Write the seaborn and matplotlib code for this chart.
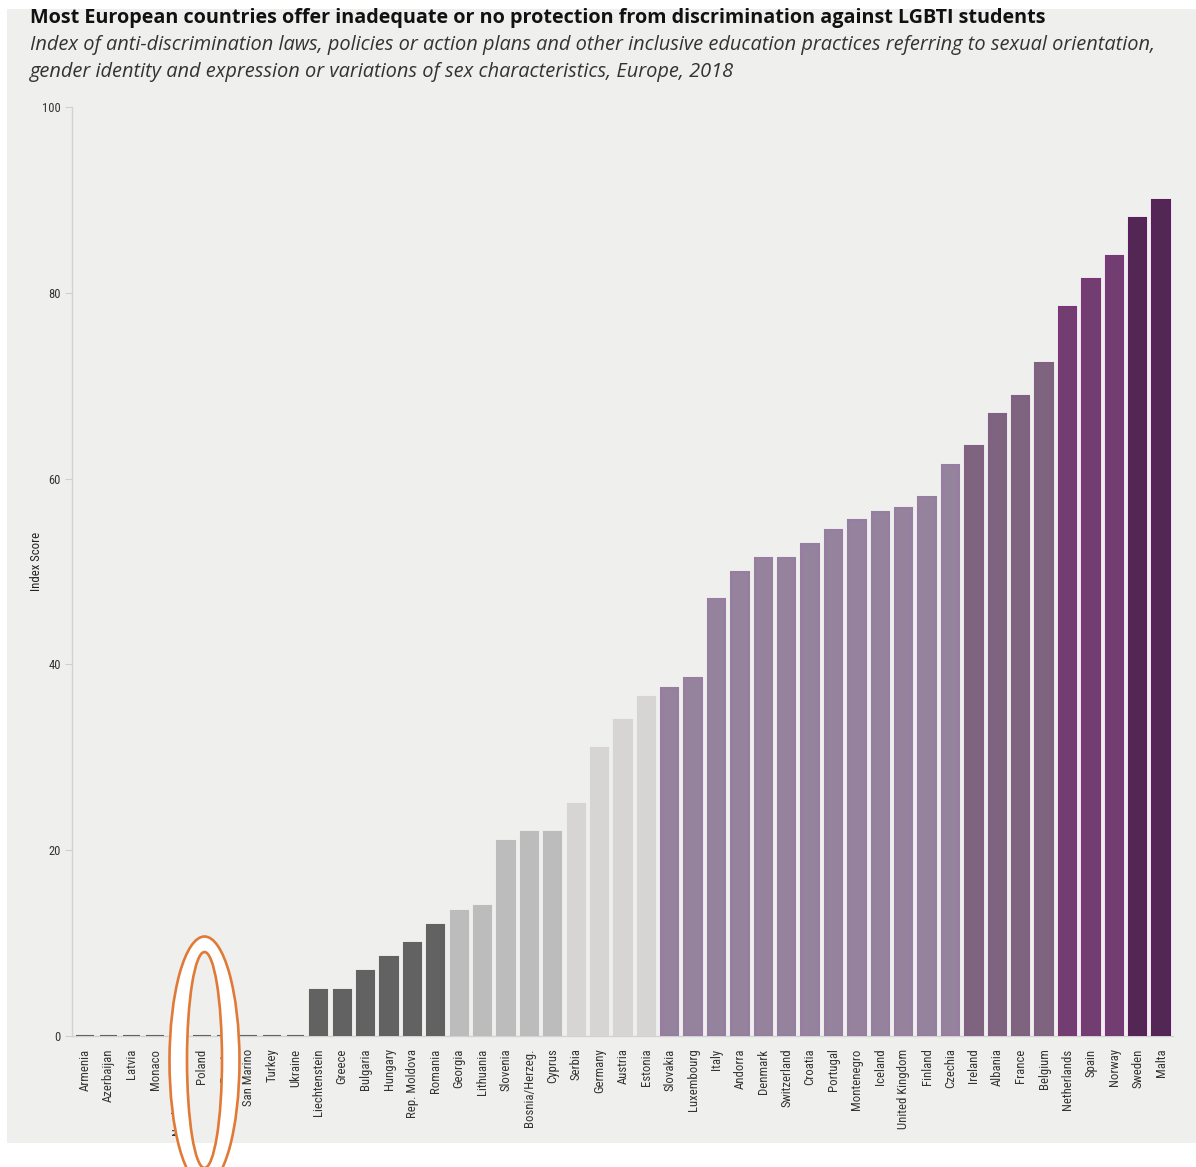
import matplotlib
matplotlib.use("Agg")
import matplotlib.pyplot as plt
from matplotlib import font_manager
from matplotlib.patches import Rectangle, Ellipse, PathPatch
from matplotlib.path import Path
from matplotlib.transforms import Affine2D, IdentityTransform
import pandas as pd
import seaborn as sns

# ---- data -------------------------------------------------------------
countries = [
    "Armenia", "Azerbaijan", "Latvia", "Monaco", "North Macedonia", "Poland",
    "Russia", "San Marino", "Turkey", "Ukraine", "Liechtenstein", "Greece",
    "Bulgaria", "Hungary", "Rep. Moldova", "Romania", "Georgia", "Lithuania",
    "Slovenia", "Bosnia/Herzeg.", "Cyprus", "Serbia", "Germany", "Austria",
    "Estonia", "Slovakia", "Luxembourg", "Italy", "Andorra", "Denmark",
    "Switzerland", "Croatia", "Portugal", "Montenegro", "Iceland",
    "United Kingdom", "Finland", "Czechia", "Ireland", "Albania", "France",
    "Belgium", "Netherlands", "Spain", "Norway", "Sweden", "Malta",
]
scores = [
    0, 0, 0, 0, 0, 0, 0, 0, 0, 0, 5, 5,
    7, 8.5, 10, 12, 13.5, 14,
    21, 22, 22, 25, 31, 34,
    36.5, 37.5, 38.5, 47, 50, 51.5,
    51.5, 53, 54.5, 55.5, 56.4,
    56.8, 58, 61.5, 63.5, 67, 68.9,
    72.4, 78.5, 81.5, 84, 88, 90,
]
score_bands = [
    "A", "A", "A", "A", "A", "A", "A", "A", "A", "A", "A", "A",
    "A", "A", "A", "A", "B", "B",
    "B", "B", "B", "C", "C", "C",
    "C", "D", "D", "D", "D", "D",
    "D", "D", "D", "D", "D",
    "D", "D", "D", "E", "E", "E",
    "E", "F", "F", "F", "G", "G",
]
band_colors = {
    "A": "#626262", "B": "#bcbcbc", "C": "#d6d5d4", "D": "#977da2",
    "E": "#826083", "F": "#7a3679", "G": "#5a1f5c",
}

title = ("Most European countries offer inadequate or no protection "
         "from discrimination against LGBTI students")
subtitle = ("Index of anti-discrimination laws, policies or action plans and other "
            "inclusive education practices referring to sexual orientation,\n"
            "gender identity and expression or variations of sex characteristics, "
            "Europe, 2018")
y_ticks = [0, 20, 40, 60, 80, 100]

# ---- fonts ------------------------------------------------------------
available = {f.name for f in font_manager.fontManager.ttflist}


def pick(*names):
    for n in names:
        if n in available:
            return n
    return "DejaVu Sans"


narrow = pick("Liberation Sans Narrow", "Roboto Condensed", "Open Sans Condensed",
              "Noto Sans Condensed", "Liberation Sans")
head = pick("Open Sans", "Lato", "Noto Sans")

sns.set_theme(style="white")
plt.rcParams["font.family"] = [head, "DejaVu Sans"]

W, H, DPI = 1196, 1167, 100
panel = "#eff0ee"
fig = plt.figure(figsize=(W / DPI, H / DPI), dpi=DPI, facecolor="white")

# grey panel behind the chart
fig.add_artist(Rectangle((7 / W, 1 - 1143 / H), 1 - 7 / W, (1143 - 9) / H,
                         transform=fig.transFigure, facecolor=panel,
                         edgecolor="none", zorder=-10))

ax = fig.add_axes([72 / W, 1 - 1036 / H, (1173 - 72) / W, (1036 - 107) / H])
ax.set_facecolor(panel)

df = pd.DataFrame({"country": countries, "score": scores, "band": score_bands})
sns.barplot(data=df, x="country", y="score", hue="band", palette=band_colors,
            dodge=False, width=0.74, legend=False, ax=ax, zorder=3)
for bar, band in zip(ax.patches, df["band"]):
    bar.set_edgecolor(band_colors[band])
    bar.set_linewidth(1.5)

ax.set_xlim(-0.55, len(countries) - 0.49)
ax.set_ylim(0, 100)
ax.set_yticks(y_ticks)
ax.set_yticklabels([str(t) for t in y_ticks], fontsize=9, color="#333333",
                   family=[narrow, "DejaVu Sans"])
ax.tick_params(axis="y", length=5, width=0.8, color="#cfcfcf", pad=3, left=True)
ax.tick_params(axis="x", length=0, pad=9)
ax.set_xticks(range(len(countries)))
ax.set_xticklabels(countries, rotation=90, fontsize=9.2, color="#333333",
                   family=[narrow, "DejaVu Sans"], va="top", ha="center")
for side in ("top", "right"):
    ax.spines[side].set_visible(False)
for side in ("left", "bottom"):
    ax.spines[side].set_color("#d2d2d2")
    ax.spines[side].set_linewidth(1.0)
ax.spines["bottom"].set_zorder(1)
ax.set_xlabel("")
ax.set_ylabel("Index Score", fontsize=9.2, color="#222222",
              family=[narrow, "DejaVu Sans"])
ax.yaxis.set_label_coords((43 - 72) / (1173 - 72), (1036 - 561) / (1036 - 107))

# headings
fig.text(30 / W, 1 - 18 / H, title, fontsize=14.25, fontweight="bold",
         color="#111111", va="center", ha="left")
fig.text(30 / W, 1 - 58.5 / H, subtitle, fontsize=14.45, style="italic",
         color="#333333", va="center", ha="left", linespacing=1.5)

# highlight ring around Poland (pixel coordinates, origin bottom-left)
cx, cy = 204.5, H - 1061
outer = Path.unit_circle().transformed(Affine2D().scale(35, 124.5).translate(cx, cy))
inner = Path.unit_circle().transformed(Affine2D().scale(17.5, 108).translate(cx, cy + 1))
inner_rev = Path(inner.vertices[::-1], inner.codes)
ring = Path.make_compound_path(outer, inner_rev)
fig.add_artist(PathPatch(ring, transform=IdentityTransform(), facecolor="white",
                         edgecolor="none", zorder=20))
for (w, h, dy) in ((70, 249, 0), (35, 216, 1)):
    fig.add_artist(Ellipse((cx, cy + dy), w, h, transform=IdentityTransform(),
                           facecolor="none", edgecolor="#e07a36", linewidth=1.9,
                           zorder=21))

fig.savefig("out.png", dpi=DPI, facecolor="white")
